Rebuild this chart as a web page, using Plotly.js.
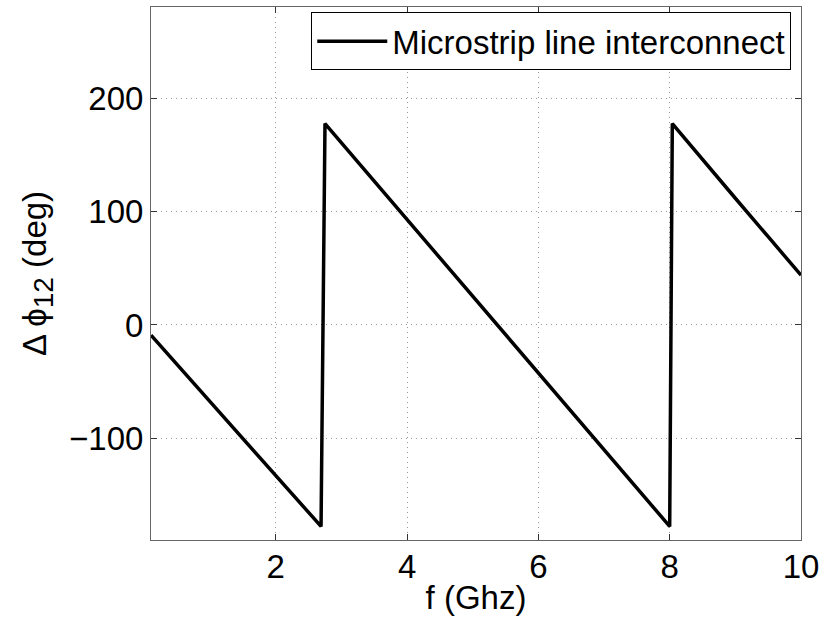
<!DOCTYPE html>
<html>
<head>
<meta charset="utf-8">
<script src="https://cdn.plot.ly/plotly-3.0.1.min.js"></script>
<style>
  html, body { margin: 0; padding: 0; background: #fff; }
  #chart { width: 823px; height: 623px; }
</style>
</head>
<body>
<div id="chart"></div>
<script>
// Phase difference of the microstrip line interconnect versus frequency
const freqGHz = [0.1, 0.5, 1.0, 1.5, 2.0, 2.5, 2.69, 2.75, 3.0, 3.5, 4.0, 4.5, 5.0, 5.5,
                 6.0, 6.5, 7.0, 7.5, 8.0, 8.04, 8.5, 9.0, 9.5, 10.0];
const phaseDeg = [-9, -35, -68, -100, -132, -165, -178, 178, 161, 127, 93, 59, 25, -8,
                  -43, -77, -111, -145, -178, 178, 146, 112, 78, 44];
const seriesName = 'Microstrip line interconnect';
const xTicks = [2, 4, 6, 8, 10];
const yTicks = [-100, 0, 100, 200];

const font = 'Liberation Sans, Arial, sans-serif';
const fs = 33;
const axisCommon = {
  showline: true,
  linecolor: '#666',
  linewidth: 1,
  mirror: 'ticks',
  ticks: 'inside',
  ticklen: 6,
  tickcolor: '#333',
  showgrid: true,
  gridcolor: '#999',
  griddash: '1px,4px',
  gridwidth: 1,
  zeroline: false,
  tickfont: { family: font, size: fs, color: '#000' }
};

const trace = {
  x: freqGHz,
  y: phaseDeg,
  type: 'scatter',
  mode: 'lines',
  name: seriesName,
  line: { color: '#000', width: 3.5 }
};

const layout = {
  width: 823,
  height: 623,
  margin: { l: 151, r: 22, t: 7, b: 83 },
  paper_bgcolor: '#fff',
  plot_bgcolor: '#fff',
  showlegend: true,
  legend: {
    x: 0.985, y: 0.99, xanchor: 'right', yanchor: 'top',
    bgcolor: '#fff', bordercolor: '#000', borderwidth: 1,
    itemwidth: 70,
    font: { family: font, size: fs, color: '#000' }
  },
  xaxis: Object.assign({}, axisCommon, {
    range: [0.1, 10],
    tickvals: xTicks,
    ticktext: xTicks.map(String),
    ticklabelstandoff: -3,
    title: { text: 'f (Ghz)', font: { family: font, size: fs, color: '#000' }, standoff: 2 }
  }),
  yaxis: Object.assign({}, axisCommon, {
    range: [-190, 281],
    tickvals: yTicks,
    ticktext: yTicks.map(v => v < 0 ? '\u2212' + Math.abs(v) : String(v)),
    title: {
      text: '\u0394 \u03d5<sub><span style="font-size:28px">12</span></sub> (deg)',
      font: { family: font, size: fs, color: '#000' },
      standoff: 12
    }
  })
};

Plotly.newPlot('chart', [trace], layout, { displayModeBar: false, staticPlot: true });
</script>
</body>
</html>
